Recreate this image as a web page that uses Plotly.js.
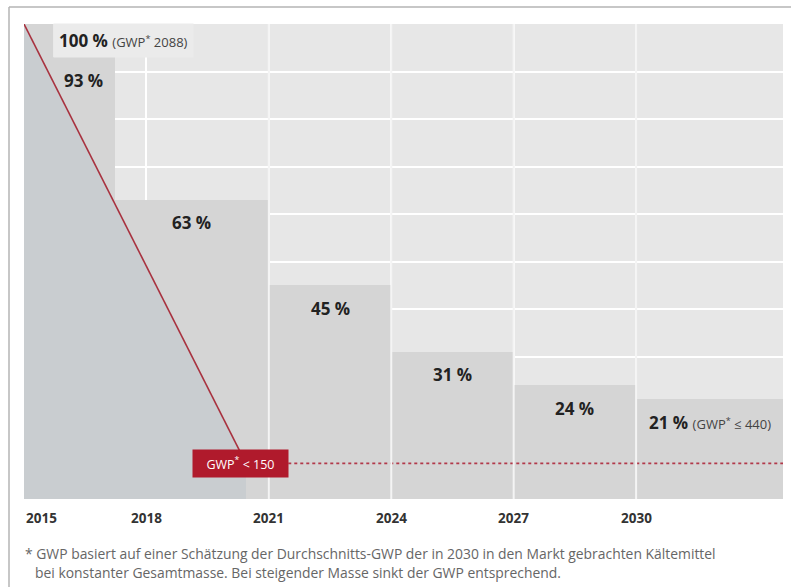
<!DOCTYPE html>
<html>
<head>
<meta charset="utf-8">
<script src="https://cdn.plot.ly/plotly-3.0.1.min.js"></script>
<style>html,body{margin:0;padding:0;background:#fff;}#chart{width:791px;height:587px;}</style>
</head>
<body>
<div id="chart"></div>
<script>
// ---- data ----
const periodStart = [2015, 2015.71, 2017.23, 2021, 2024, 2027, 2030];
const periodEnd   = [2015.71, 2017.23, 2021, 2024, 2027, 2030, 2033.6];
const share       = [100, 93, 63, 45, 31, 24, 21];
const shareLabels = ['100 %', '93 %', '63 %', '45 %', '31 %', '24 %', '21 %'];
const gwpStart = '(GWP<sup>*</sup> 2088)';
const gwpEnd   = '(GWP<sup>*</sup> ≤ 440)';
const lineYears = [2015, 2020.44];
const lineShare = [100, 7.5];
const targetYears = [2020.3, 2033.6];
const targetShare = [7.5, 7.5];
const targetLabel = 'GWP<sup>*</sup> < 150';
const tickYears = [2015, 2018, 2021, 2024, 2027, 2030];
const tickLabels = ['2015', '2018', '2021', '2024', '2027', '2030'];
const footnote1 = '* GWP basiert auf einer Schätzung der Durchschnitts-GWP der in 2030 in den Markt gebrachten Kältemittel';
const footnote2 = 'bei konstanter Gesamtmasse. Bei steigender Masse sinkt der GWP entsprechend.';

// ---- layout geometry ----
const W = 791, H = 587;
const M = {l: 24, r: 8, t: 24, b: 88};
const pw = W - M.l - M.r, ph = H - M.t - M.b;
const px = x => (x - M.l) / pw;          // pixel -> paper x
const py = y => (H - M.b - y) / ph;      // pixel -> paper y

const FONT = '"Open Sans", "Noto Sans", sans-serif';

const mids = periodStart.map((s, i) => (s + periodEnd[i]) / 2);
const widths = periodStart.map((s, i) => periodEnd[i] - s);

const traces = [
  {
    type: 'bar', x: mids, y: share, width: widths,
    marker: {color: '#d5d5d5', line: {width: 0}},
    hoverinfo: 'skip', showlegend: false
  },
  {
    type: 'scatter', mode: 'lines',
    x: [lineYears[0], lineYears[1], lineYears[1], lineYears[0], lineYears[0]],
    y: [lineShare[0], lineShare[1], 0, 0, lineShare[0]],
    fill: 'toself', fillcolor: '#c9cdd0', line: {width: 0},
    hoverinfo: 'skip', showlegend: false
  },
  {
    type: 'scatter', mode: 'lines', x: lineYears, y: lineShare,
    line: {color: '#a8323f', width: 1.6},
    hoverinfo: 'skip', showlegend: false
  },
  {
    type: 'scatter', mode: 'lines', x: targetYears, y: targetShare,
    line: {color: '#b2394a', width: 1.6, dash: 'dot'},
    hoverinfo: 'skip', showlegend: false
  }
];

const SMALL = '<span style="font-size:13px;color:#444">';
const annotations = [];
// bar value labels
share.forEach((v, i) => {
  if (i === 0) {
    annotations.push({
      x: periodEnd[0], y: v, xref: 'x', yref: 'y', xanchor: 'left', yanchor: 'middle',
      xshift: 0, yshift: -16.5, showarrow: false, bgcolor: '#ebebeb', borderpad: 5,
      text: '<b>' + shareLabels[i] + '</b> ' + SMALL + gwpStart + '</span>',
      font: {family: FONT, size: 17, color: '#222'}
    });
  } else if (i === share.length - 1) {
    annotations.push({
      x: mids[i], y: v, xref: 'x', yref: 'y', xanchor: 'center', yanchor: 'middle',
      yshift: -23, showarrow: false,
      text: '<b>' + shareLabels[i] + '</b> ' + SMALL + gwpEnd + '</span>',
      font: {family: FONT, size: 17, color: '#222'}
    });
  } else {
    annotations.push({
      x: mids[i], y: v, xref: 'x', yref: 'y', xanchor: 'center', yanchor: 'middle',
      yshift: -23, showarrow: false,
      text: '<b>' + shareLabels[i] + '</b>',
      font: {family: FONT, size: 17, color: '#222'}
    });
  }
});
// target box
annotations.push({
  x: targetYears[0], y: targetShare[0], xref: 'x', yref: 'y', xanchor: 'center', yanchor: 'middle',
  showarrow: false, text: targetLabel, bgcolor: '#b01a2c', width: 91, height: 23, borderpad: 2,
  font: {family: FONT, size: 12.5, color: '#ffffff'}
});
// tick labels
tickYears.forEach((yr, i) => {
  annotations.push({
    x: yr, y: 0, xref: 'x', yref: 'paper', xanchor: i === 0 ? 'left' : 'center', yanchor: 'middle',
    yshift: -19, showarrow: false, text: '<b>' + tickLabels[i] + '</b>',
    font: {family: FONT, size: 13.5, color: '#333'}
  });
});
// footnote
annotations.push({
  x: px(23), y: py(553), xref: 'paper', yref: 'paper', xanchor: 'left', yanchor: 'middle',
  showarrow: false, text: footnote1, font: {family: FONT, size: 13.9, color: '#666'}
});
annotations.push({
  x: px(33), y: py(572), xref: 'paper', yref: 'paper', xanchor: 'left', yanchor: 'middle',
  showarrow: false, text: footnote2, font: {family: FONT, size: 13.9, color: '#666'}
});

const shapes = [
  // frame
  {type: 'line', xref: 'paper', yref: 'paper', x0: px(9), x1: px(791), y0: py(7), y1: py(7),
   line: {color: '#b4b4b4', width: 1.5}},
  {type: 'line', xref: 'paper', yref: 'paper', x0: px(9), x1: px(9), y0: py(7), y1: py(587),
   line: {color: '#b4b4b4', width: 1.5}}
];
// white separators between the later bars
periodStart.slice(3).forEach(s => {
  shapes.push({type: 'line', xref: 'x', yref: 'paper', x0: s, x1: s, y0: 0, y1: 1,
    layer: 'above', line: {color: '#f4f4f4', width: 2}});
});

const layout = {
  width: W, height: H,
  margin: M,
  paper_bgcolor: '#ffffff', plot_bgcolor: '#e7e7e7',
  bargap: 0,
  xaxis: {
    range: [2015, 2033.6], tickvals: [2018, 2021, 2024, 2027, 2030], showticklabels: false,
    showgrid: true, gridcolor: '#ffffff', gridwidth: 2, zeroline: false, showline: false, ticks: '',
    fixedrange: true
  },
  yaxis: {
    range: [0, 100], dtick: 10, showticklabels: false, showgrid: true, gridcolor: '#ffffff',
    gridwidth: 2, zeroline: false, showline: false, ticks: '', fixedrange: true
  },
  annotations: annotations,
  shapes: shapes,
  showlegend: false
};

Plotly.newPlot('chart', traces, layout, {displayModeBar: false, staticPlot: true});
</script>
</body>
</html>
